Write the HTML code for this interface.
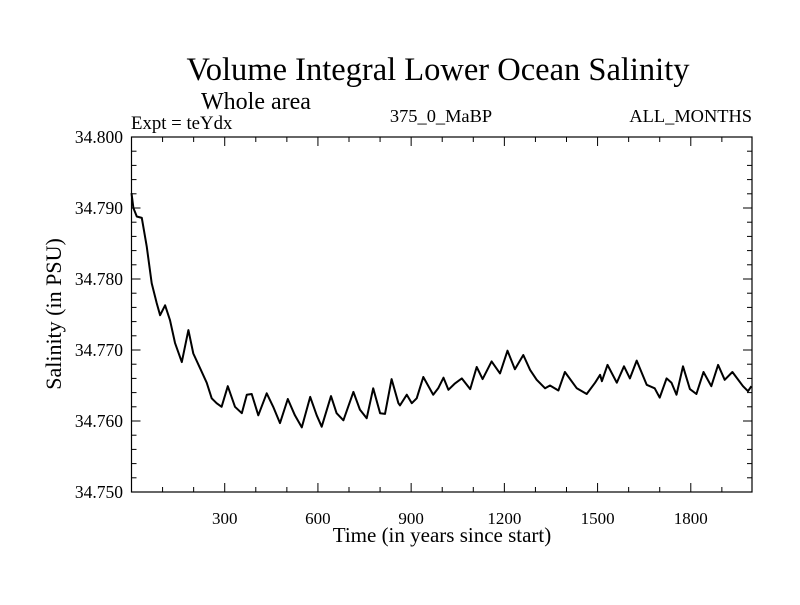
<!DOCTYPE html>
<html><head><meta charset="utf-8"><style>
body{margin:0;background:#fff}
svg text{font-family:"Liberation Serif",serif;fill:#000}
</style></head><body>
<svg id="chart" width="800" height="600" xmlns="http://www.w3.org/2000/svg">
<rect width="800" height="600" fill="#fff"/>
<text x="438" y="80" font-size="32.5" text-anchor="middle">Volume Integral Lower Ocean Salinity</text>
<text x="201" y="109" font-size="24">Whole area</text>
<text x="131" y="129" font-size="18.8">Expt = teYdx</text>
<text x="441" y="122" font-size="18.4" text-anchor="middle">375_0_MaBP</text>
<text x="752" y="122" font-size="18.4" text-anchor="end">ALL_MONTHS</text>
<text transform="translate(61,314) rotate(-90)" font-size="22" text-anchor="middle">Salinity (in PSU)</text>
<text x="442" y="542" font-size="21" text-anchor="middle">Time (in years since start)</text>
<g id="axes"></g>
<g id="plot"></g>
<rect x="131.5" y="137" width="620.5" height="355" fill="none" stroke="#000" stroke-width="1.2"/>
</svg>
<script>
const years=[0,6,17,33,49,65,81,92,108,124,140,162,183,199,220,242,258,274,290,310,333,355,371,387,408,435,456,478,503,526,548,575,596,612,642,660,682,714,735,757,778,800,816,837,859,864,886,902,918,939,971,987,1004,1020,1041,1063,1090,1111,1130,1159,1186,1210,1234,1261,1283,1304,1331,1347,1374,1395,1433,1465,1492,1508,1514,1532,1562,1585,1604,1626,1658,1684,1700,1722,1738,1754,1775,1797,1818,1841,1866,1888,1909,1934,1968,1984,1995];
const salinity=[34.7921,34.7900,34.7888,34.7886,34.7846,34.7794,34.7766,34.7749,34.7763,34.7742,34.7710,34.7683,34.7728,34.7695,34.7675,34.7654,34.7632,34.7625,34.7620,34.7649,34.7620,34.7611,34.7637,34.7638,34.7608,34.7639,34.7620,34.7597,34.7631,34.7608,34.7591,34.7634,34.7608,34.7592,34.7635,34.7611,34.7601,34.7641,34.7616,34.7604,34.7646,34.7611,34.7610,34.7659,34.7625,34.7622,34.7637,34.7625,34.7632,34.7662,34.7637,34.7646,34.7661,34.7644,34.7653,34.7660,34.7645,34.7676,34.7659,34.7684,34.7667,34.7699,34.7673,34.7693,34.7672,34.7658,34.7646,34.7650,34.7643,34.7669,34.7646,34.7638,34.7654,34.7665,34.7656,34.7679,34.7654,34.7677,34.7660,34.7685,34.7651,34.7646,34.7633,34.7660,34.7654,34.7637,34.7677,34.7645,34.7638,34.7669,34.7649,34.7679,34.7658,34.7669,34.7649,34.7642,34.7649];
const xTicks=[300,600,900,1200,1500,1800];
const yTicks=[34.750,34.760,34.770,34.780,34.790,34.800];
const yTickLabels=["34.750","34.760","34.770","34.780","34.790","34.800"];
const X0=131.5,X1=752,Y0=492,Y1=137,XMIN=0,XMAX=1997,YMIN=34.75,YMAX=34.80;
const sx=v=>X0+(v-XMIN)/(XMAX-XMIN)*(X1-X0);
const sy=v=>Y0-(v-YMIN)/(YMAX-YMIN)*(Y0-Y1);
const NS="http://www.w3.org/2000/svg";
const axes=document.getElementById('axes'),plot=document.getElementById('plot');
function mk(tag,attrs,parent){const e=document.createElementNS(NS,tag);for(const k in attrs)e.setAttribute(k,attrs[k]);parent.appendChild(e);return e;}
for(let t=100;t<XMAX;t+=100){
  const major=t%300===0,len=major?9:5,x=sx(t);
  const a=mk('line',{x1:x,x2:x,y1:Y0,y2:Y0-len,stroke:'#000'},axes);
  
  
  const b=mk('line',{x1:x,x2:x,y1:Y1,y2:Y1+len,stroke:'#000'},axes);
  
  
}
xTicks.forEach(t=>{
  const e=mk('text',{x:sx(t),y:524,'font-size':17,'text-anchor':'middle'},axes);e.textContent=t;
  
  
});
for(let i=1;i<25;i++){
  const v=YMIN+i*0.002,major=i%5===0,len=major?9:5,y=sy(v);
  const a=mk('line',{x1:X0,x2:X0+len,y1:y,y2:y,stroke:'#000'},axes);
  
  
  const b=mk('line',{x1:X1,x2:X1-len,y1:y,y2:y,stroke:'#000'},axes);
  
  
}
yTicks.forEach((v,i)=>{
  const e=mk('text',{x:123,y:sy(v)+6,'font-size':17.5,'text-anchor':'end'},axes);e.textContent=yTickLabels[i];
  
  
});
const pts=years.map((y,i)=>sx(y).toFixed(1)+','+sy(salinity[i]).toFixed(1)).join(' ');
const line=mk('polyline',{points:pts,fill:'none',stroke:'#000','stroke-width':2,'stroke-linejoin':'round'},plot);


</script>
</body></html>
